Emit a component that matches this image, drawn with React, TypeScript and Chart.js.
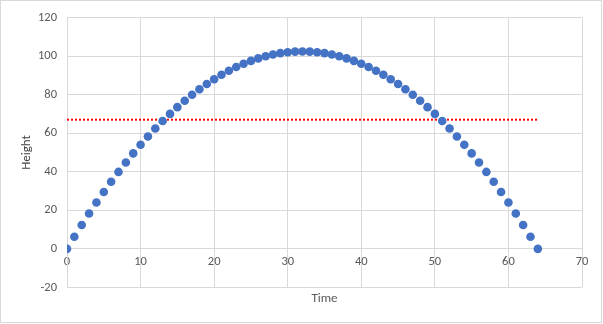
import React, { useEffect, useRef } from "react";
import { Chart, registerables } from "chart.js";

Chart.register(...registerables);

const times: number[] = [
  0, 1, 2, 3, 4, 5, 6, 7, 8, 9, 10, 11, 12, 13, 14, 15, 16, 17, 18, 19, 20, 21,
  22, 23, 24, 25, 26, 27, 28, 29, 30, 31, 32, 33, 34, 35, 36, 37, 38, 39, 40, 41,
  42, 43, 44, 45, 46, 47, 48, 49, 50, 51, 52, 53, 54, 55, 56, 57, 58, 59, 60, 61,
  62, 63, 64,
];

const heights: number[] = [
  0, 6.3, 12.4, 18.3, 24.0, 29.5, 34.8, 39.9, 44.8, 49.5, 54.0, 58.3, 62.4, 66.3,
  70.0, 73.5, 76.8, 79.9, 82.8, 85.5, 88.0, 90.3, 92.4, 94.3, 96.0, 97.5, 98.8,
  99.9, 100.8, 101.5, 102.0, 102.3, 102.4, 102.3, 102.0, 101.5, 100.8, 99.9, 98.8,
  97.5, 96.0, 94.3, 92.4, 90.3, 88.0, 85.5, 82.8, 79.9, 76.8, 73.5, 70.0, 66.3,
  62.4, 58.3, 54.0, 49.5, 44.8, 39.9, 34.8, 29.5, 24.0, 18.3, 12.4, 6.3, 0,
];

const refLineX: number[] = [0, 64];
const refLineY: number[] = [67, 67];

const FONT = "Calibri, Carlito, 'Liberation Sans', Arial, sans-serif";

const frame = {
  id: "frame",
  beforeDraw(chart: any) {
    const { ctx, width, height } = chart;
    ctx.save();
    ctx.fillStyle = "#ffffff";
    ctx.fillRect(0, 0, width, height);
    ctx.strokeStyle = "#d9d9d9";
    ctx.lineWidth = 1;
    ctx.strokeRect(0.5, 0.5, width - 2, height - 2);
    ctx.restore();
  },
};

export default function App() {
  const ref = useRef<HTMLCanvasElement | null>(null);

  useEffect(() => {
    document.body.style.margin = "0";
    const canvas = ref.current;
    if (!canvas) return;
    const chart = new Chart(canvas, {
      type: "scatter",
      data: {
        datasets: [
          {
            label: "Height",
            data: times.map((t, i) => ({ x: t, y: heights[i] })),
            backgroundColor: "#4472C4",
            borderColor: "#4472C4",
            pointRadius: 4.3,
            pointBorderWidth: 0,
          },
          {
            type: "line",
            label: "Reference",
            data: refLineX.map((x, i) => ({ x, y: refLineY[i] })),
            borderColor: "#FF0000",
            borderWidth: 2,
            borderDash: [2, 2],
            pointRadius: 0,
            showLine: true,
            fill: false,
          } as any,
        ],
      },
      options: {
        responsive: false,
        animation: false,
        layout: { padding: { left: 0, right: 21, top: 15, bottom: 0 } },
        plugins: {
          legend: { display: false },
          tooltip: { enabled: false },
          title: {
            display: true,
            text: "Time",
            position: "bottom",
            fullSize: false,
            color: "#595959",
            font: { family: FONT, size: 13, weight: "normal" },
            padding: { top: 4, bottom: 17 },
          },
        },
        scales: {
          x: {
            type: "linear",
            position: { y: 0 } as any,
            min: 0,
            max: 70,
            ticks: {
              stepSize: 10,
              color: "#595959",
              padding: 6,
              font: { family: FONT, size: 12.5 },
            },
            grid: { color: "#d9d9d9", drawTicks: false, lineWidth: 1 },
            border: { color: "#d9d9d9" },
          },
          y: {
            type: "linear",
            position: "left",
            min: -20,
            max: 120,
            ticks: {
              stepSize: 20,
              color: "#595959",
              padding: 10,
              font: { family: FONT, size: 12.5 },
            },
            grid: { color: "#d9d9d9", drawTicks: false, lineWidth: 1 },
            border: { color: "#d9d9d9" },
            title: {
              display: true,
              text: "Height",
              color: "#404040",
              font: { family: FONT, size: 13 },
              padding: { top: 19, bottom: 0 },
            },
            afterFit: (scale: any) => {
              scale.width = 67;
            },
          },
        },
      },
      plugins: [frame],
    });
    return () => chart.destroy();
  }, []);

  return <canvas ref={ref} width={603} height={324} style={{ display: "block" }} />;
}
